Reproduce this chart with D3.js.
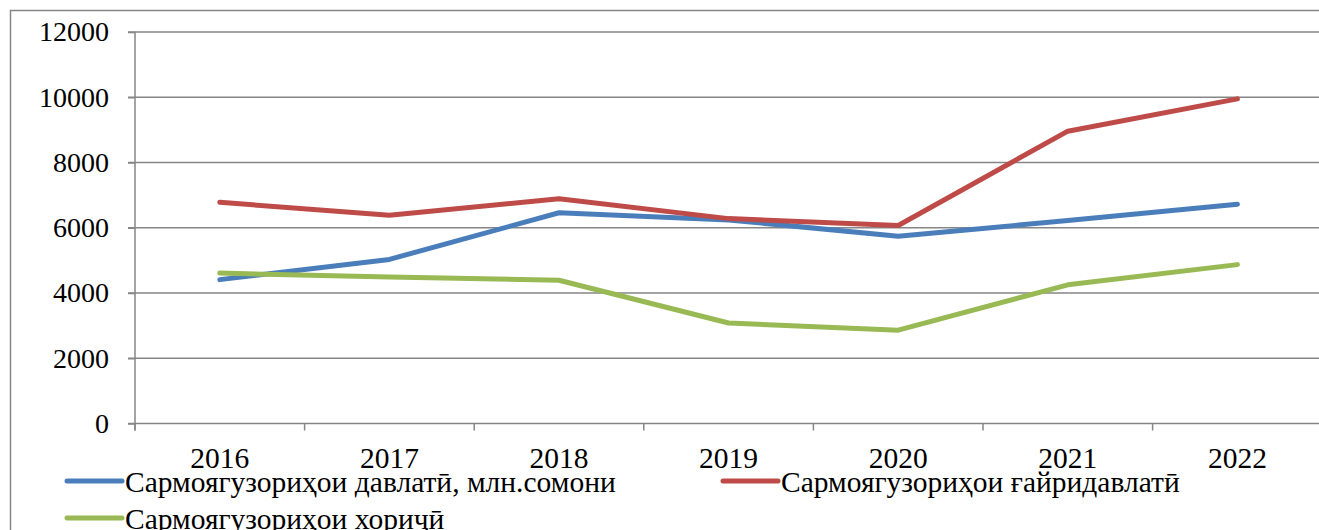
<!DOCTYPE html>
<html>
<head>
<meta charset="utf-8">
<script src="https://cdn.jsdelivr.net/npm/d3@7"></script>
<style>
	body { margin: 0; background: #fff; overflow: hidden; }
	svg text { font-family: "Liberation Serif", "Times New Roman", serif; fill: #000; }
</style>
</head>
<body>
<div id="chart"></div>
<script>
	var years = ["2016", "2017", "2018", "2019", "2020", "2021", "2022"];
	var davlati = [4410, 5030, 6460, 6240, 5740, 6220, 6720];
	var gayridavlati = [6780, 6380, 6890, 6280, 6070, 8960, 9950];
	var horiji = [4610, 4490, 4390, 3080, 2860, 4250, 4870];
	var seriesNames = ["Сармоягузориҳои давлатӣ, млн.сомони", "Сармоягузориҳои ғайридавлатӣ", "Сармоягузориҳои хориҷӣ"];
	var yTicks = [0, 2000, 4000, 6000, 8000, 10000, 12000];

	var W = 1319, H = 530;
	var plotLeft = 135, plotTop = 32, plotBottom = 423.5, catW = 169.6;
	var gridColor = "#868686";

	var svg = d3.select("#chart").append("svg")
		.attr("width", W)
		.attr("height", H);

	// outer frame of the chart object
	svg.append("rect")
		.attr("x", 10.5).attr("y", 10.5)
		.attr("width", W + 20).attr("height", H + 20)
		.attr("fill", "none")
		.attr("stroke", gridColor)
		.attr("stroke-width", 1.5);

	var x = d3.scaleBand()
		.domain(years)
		.range([plotLeft, plotLeft + catW * years.length]);

	var y = d3.scaleLinear()
		.domain([0, 12000])
		.range([plotBottom, plotTop]);

	// horizontal gridlines
	svg.append("g").selectAll("line")
		.data(yTicks)
		.enter().append("line")
		.attr("x1", plotLeft - 7)
		.attr("x2", x.range()[1])
		.attr("y1", function (d) { return y(d); })
		.attr("y2", function (d) { return y(d); })
		.attr("stroke", gridColor)
		.attr("stroke-width", 1.5);

	// y axis
	var yAxis = svg.append("g")
		.attr("transform", "translate(" + plotLeft + ",0)")
		.call(d3.axisLeft(y).tickValues(yTicks).tickSize(7).tickPadding(19).tickFormat(d3.format("d")))
		.attr("font-family", null)
		.attr("font-size", null);
	yAxis.select(".domain").attr("stroke", gridColor).attr("stroke-width", 1.5)
		.attr("d", "M0," + plotTop + "V" + (plotBottom + 7));
	yAxis.selectAll(".tick line").attr("stroke", gridColor).attr("stroke-width", 1.5);
	yAxis.selectAll(".tick text")
		.style("font-size", "28px")
		.attr("fill", "#000");

	// x axis ticks at category boundaries
	var bounds = years.map(function (d) { return x(d); }).concat([x.range()[1]]);
	svg.append("g").selectAll("line")
		.data(bounds)
		.enter().append("line")
		.attr("x1", function (d) { return d; })
		.attr("x2", function (d) { return d; })
		.attr("y1", plotBottom)
		.attr("y2", plotBottom + 7)
		.attr("stroke", gridColor)
		.attr("stroke-width", 1.5);

	svg.append("g").selectAll("text")
		.data(years)
		.enter().append("text")
		.attr("x", function (d) { return x(d) + x.bandwidth() / 2; })
		.attr("y", 468)
		.attr("text-anchor", "middle")
		.style("font-size", "29.5px")
		.text(function (d) { return d; });

	var series = [
		{name: seriesNames[0], values: davlati, color: "#4A7EBB"},
		{name: seriesNames[1], values: gayridavlati, color: "#BE4B48"},
		{name: seriesNames[2], values: horiji, color: "#98B954"}
	];

	var line = d3.line()
		.x(function (d, i) { return x(years[i]) + x.bandwidth() / 2; })
		.y(function (d) { return y(d); });

	series.forEach(function (s) {
		svg.append("path")
			.datum(s.values)
			.attr("d", line)
			.attr("fill", "none")
			.attr("stroke", s.color)
			.attr("stroke-width", 5)
			.attr("stroke-linejoin", "round")
			.attr("stroke-linecap", "round");
	});

	// legend
	var legendPos = [{x: 67, y: 481}, {x: 723, y: 481}, {x: 67, y: 518}];
	series.forEach(function (s, i) {
		var p = legendPos[i];
		var g = svg.append("g").attr("transform", "translate(" + p.x + "," + p.y + ")");
		g.append("line")
			.attr("x1", 0).attr("x2", 55)
			.attr("y1", 0).attr("y2", 0)
			.attr("stroke", s.color)
			.attr("stroke-width", 5)
			.attr("stroke-linecap", "round");
		g.append("text")
			.attr("x", 58)
			.attr("y", 11)
			.style("font-size", "29.5px")
			.text(s.name);
	});
</script>
</body>
</html>
